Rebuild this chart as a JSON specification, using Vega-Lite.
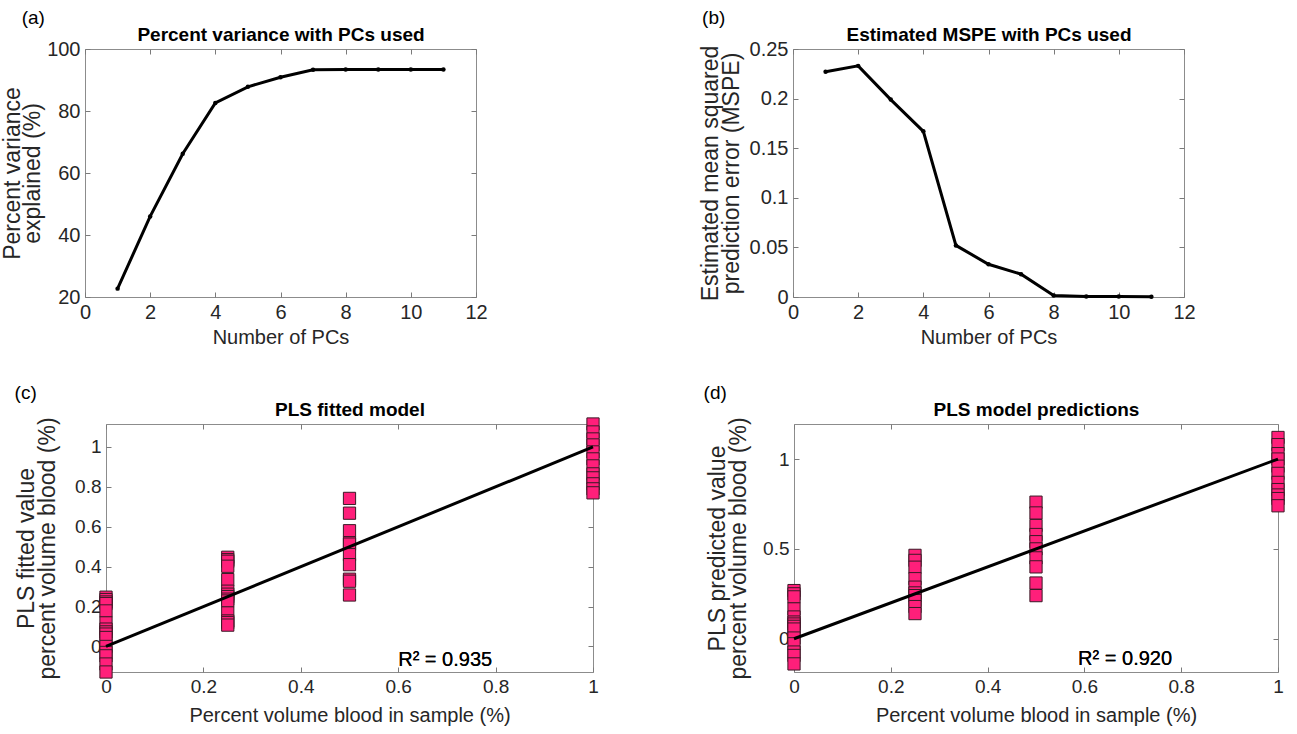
{
  "$schema": "https://vega.github.io/schema/vega-lite/v6.json",
  "background": "white",
  "padding": {"left": 1, "top": 8, "right": 0, "bottom": 0},
  "config": {
    "font": "Liberation Sans",
    "view": {"stroke": "#8c8c8c", "strokeWidth": 1},
    "axis": {
      "grid": false, "domain": false, "tickColor": "#7a7a7a", "tickSize": -5, "tickWidth": 1,
      "labelPadding": 10, "labelFont": "Liberation Sans", "labelFontSize": 19, "labelColor": "#262626",
      "labelFlush": false, "labelOverlap": false,
      "titleFont": "Liberation Sans", "titleFontSize": 20, "titleFontWeight": "normal", "titleColor": "#262626",
      "titlePadding": 5, "titleLineHeight": 21
    },
    "axisY": {"titleFontSize": 23, "titlePadding": 2},
    "axisTop": {"titleFontSize": 19, "titleFontWeight": "bold", "titleColor": "#000000", "titlePadding": 4},
    "title": {"font": "Liberation Sans", "fontSize": 19, "fontWeight": "normal", "color": "#000000", "anchor": "start", "frame": "bounds", "offset": -2}
  },
  "datasets": {
    "var": [
      {"pcs": 1, "value": 22.7}, {"pcs": 2, "value": 46.0}, {"pcs": 3, "value": 66.2}, {"pcs": 4, "value": 82.6},
      {"pcs": 5, "value": 87.8}, {"pcs": 6, "value": 90.9}, {"pcs": 7, "value": 93.3}, {"pcs": 8, "value": 93.4},
      {"pcs": 9, "value": 93.4}, {"pcs": 10, "value": 93.4}, {"pcs": 11, "value": 93.4}
    ],
    "mspe": [
      {"pcs": 1, "mspe": 0.227}, {"pcs": 2, "mspe": 0.233}, {"pcs": 3, "mspe": 0.199}, {"pcs": 4, "mspe": 0.167},
      {"pcs": 5, "mspe": 0.052}, {"pcs": 6, "mspe": 0.033}, {"pcs": 7, "mspe": 0.023}, {"pcs": 8, "mspe": 0.0015},
      {"pcs": 9, "mspe": 0.0006}, {"pcs": 10, "mspe": 0.0004}, {"pcs": 11, "mspe": 0.0003}
    ],
    "fit": [
      {"blood": 0, "fitted": 0.247}, {"blood": 0, "fitted": 0.235}, {"blood": 0, "fitted": 0.223}, {"blood": 0, "fitted": 0.215},
      {"blood": 0, "fitted": 0.178}, {"blood": 0, "fitted": 0.118}, {"blood": 0, "fitted": 0.087}, {"blood": 0, "fitted": 0.073},
      {"blood": 0, "fitted": 0.062}, {"blood": 0, "fitted": 0.045}, {"blood": 0, "fitted": 0.0}, {"blood": 0, "fitted": -0.03},
      {"blood": 0, "fitted": -0.047}, {"blood": 0, "fitted": -0.088}, {"blood": 0, "fitted": -0.128},
      {"blood": 0.25, "fitted": 0.447}, {"blood": 0.25, "fitted": 0.435}, {"blood": 0.25, "fitted": 0.427}, {"blood": 0.25, "fitted": 0.402},
      {"blood": 0.25, "fitted": 0.335}, {"blood": 0.25, "fitted": 0.277}, {"blood": 0.25, "fitted": 0.262}, {"blood": 0.25, "fitted": 0.25},
      {"blood": 0.25, "fitted": 0.237}, {"blood": 0.25, "fitted": 0.228}, {"blood": 0.25, "fitted": 0.168}, {"blood": 0.25, "fitted": 0.128},
      {"blood": 0.25, "fitted": 0.12}, {"blood": 0.25, "fitted": 0.107},
      {"blood": 0.5, "fitted": 0.742}, {"blood": 0.5, "fitted": 0.668}, {"blood": 0.5, "fitted": 0.58}, {"blood": 0.5, "fitted": 0.52},
      {"blood": 0.5, "fitted": 0.513}, {"blood": 0.5, "fitted": 0.46}, {"blood": 0.5, "fitted": 0.41}, {"blood": 0.5, "fitted": 0.337},
      {"blood": 0.5, "fitted": 0.327}, {"blood": 0.5, "fitted": 0.258},
      {"blood": 1, "fitted": 1.115}, {"blood": 1, "fitted": 1.075}, {"blood": 1, "fitted": 1.04}, {"blood": 1, "fitted": 1.01},
      {"blood": 1, "fitted": 0.975}, {"blood": 1, "fitted": 0.94}, {"blood": 1, "fitted": 0.905}, {"blood": 1, "fitted": 0.865},
      {"blood": 1, "fitted": 0.845}, {"blood": 1, "fitted": 0.815}, {"blood": 1, "fitted": 0.79}, {"blood": 1, "fitted": 0.77}
    ],
    "pred": [
      {"blood": 0, "predicted": 0.268}, {"blood": 0, "predicted": 0.25}, {"blood": 0, "predicted": 0.233}, {"blood": 0, "predicted": 0.166},
      {"blood": 0, "predicted": 0.121}, {"blood": 0, "predicted": 0.093}, {"blood": 0, "predicted": 0.082}, {"blood": 0, "predicted": 0.069},
      {"blood": 0, "predicted": 0.054}, {"blood": 0, "predicted": 0.004}, {"blood": 0, "predicted": -0.028}, {"blood": 0, "predicted": -0.074},
      {"blood": 0, "predicted": -0.093}, {"blood": 0, "predicted": -0.14},
      {"blood": 0.25, "predicted": 0.464}, {"blood": 0.25, "predicted": 0.436}, {"blood": 0.25, "predicted": 0.398}, {"blood": 0.25, "predicted": 0.334},
      {"blood": 0.25, "predicted": 0.287}, {"blood": 0.25, "predicted": 0.255}, {"blood": 0.25, "predicted": 0.24}, {"blood": 0.25, "predicted": 0.212},
      {"blood": 0.25, "predicted": 0.179}, {"blood": 0.25, "predicted": 0.14},
      {"blood": 0.5, "predicted": 0.76}, {"blood": 0.5, "predicted": 0.7}, {"blood": 0.5, "predicted": 0.63}, {"blood": 0.5, "predicted": 0.58},
      {"blood": 0.5, "predicted": 0.54}, {"blood": 0.5, "predicted": 0.5}, {"blood": 0.5, "predicted": 0.45}, {"blood": 0.5, "predicted": 0.4},
      {"blood": 0.5, "predicted": 0.31}, {"blood": 0.5, "predicted": 0.24},
      {"blood": 1, "predicted": 1.12}, {"blood": 1, "predicted": 1.08}, {"blood": 1, "predicted": 1.03}, {"blood": 1, "predicted": 1.0},
      {"blood": 1, "predicted": 0.96}, {"blood": 1, "predicted": 0.92}, {"blood": 1, "predicted": 0.87}, {"blood": 1, "predicted": 0.83},
      {"blood": 1, "predicted": 0.8}, {"blood": 1, "predicted": 0.78}, {"blood": 1, "predicted": 0.74}
    ],
    "ident": [{"blood": 0, "estimate": 0}, {"blood": 1, "estimate": 1}]
  },
  "vconcat": [
    {
      "hconcat": [
        {
          "width": 391, "height": 248,
          "title": {"text": "(a)", "dx": 20},
          "layer": [
            {
              "data": {"name": "var"},
              "mark": {"type": "line", "color": "#000000", "strokeWidth": 3},
              "encoding": {
                "x": {"field": "pcs", "type": "quantitative", "scale": {"domain": [0, 12], "nice": false, "zero": false},
                      "axis": {"values": [0, 2, 4, 6, 8, 10, 12], "labelFontSize": 20, "title": "Number of PCs"}},
                "y": {"field": "value", "type": "quantitative", "scale": {"domain": [20, 100], "nice": false, "zero": false},
                      "axis": {"values": [20, 40, 60, 80, 100], "labelFontSize": 20, "titleLineHeight": 20, "title": ["Percent variance", "explained (%)"]}}
              }
            },
            {
              "data": {"name": "var"},
              "mark": {"type": "point", "filled": true, "size": 20, "color": "#000000", "opacity": 1},
              "encoding": {
                "x": {"field": "pcs", "type": "quantitative", "axis": null},
                "y": {"field": "value", "type": "quantitative", "axis": null}
              }
            },
            {
              "data": {"name": "var"},
              "mark": {"type": "point", "opacity": 0},
              "encoding": {
                "x": {"field": "pcs", "type": "quantitative", "axis": {"orient": "top", "values": [0, 2, 4, 6, 8, 10, 12], "labels": false, "title": "Percent variance with PCs used"}},
                "y": {"field": "value", "type": "quantitative", "axis": {"orient": "right", "values": [20, 40, 60, 80, 100], "labels": false, "title": null}}
              }
            }
          ],
          "resolve": {"axis": {"x": "independent", "y": "independent"}}
        },
        {
          "width": 391, "height": 248,
          "title": {"text": "(b)", "dx": 3},
          "layer": [
            {
              "data": {"name": "mspe"},
              "mark": {"type": "line", "color": "#000000", "strokeWidth": 3},
              "encoding": {
                "x": {"field": "pcs", "type": "quantitative", "scale": {"domain": [0, 12], "nice": false, "zero": false},
                      "axis": {"values": [0, 2, 4, 6, 8, 10, 12], "labelFontSize": 20, "title": "Number of PCs"}},
                "y": {"field": "mspe", "type": "quantitative", "scale": {"domain": [0, 0.25], "nice": false},
                      "axis": {"values": [0, 0.05, 0.1, 0.15, 0.2, 0.25], "format": "~g", "labelFontSize": 20, "titlePadding": 6, "title": ["Estimated mean squared", "prediction error (MSPE)"]}}
              }
            },
            {
              "data": {"name": "mspe"},
              "mark": {"type": "point", "filled": true, "size": 20, "color": "#000000", "opacity": 1},
              "encoding": {
                "x": {"field": "pcs", "type": "quantitative", "axis": null},
                "y": {"field": "mspe", "type": "quantitative", "axis": null}
              }
            },
            {
              "data": {"name": "mspe"},
              "mark": {"type": "point", "opacity": 0},
              "encoding": {
                "x": {"field": "pcs", "type": "quantitative", "axis": {"orient": "top", "values": [0, 2, 4, 6, 8, 10, 12], "labels": false, "title": "Estimated MSPE with PCs used"}},
                "y": {"field": "mspe", "type": "quantitative", "axis": {"orient": "right", "values": [0, 0.05, 0.1, 0.15, 0.2, 0.25], "labels": false, "title": null}}
              }
            }
          ],
          "resolve": {"axis": {"x": "independent", "y": "independent"}}
        }
      ],
      "spacing": 317,
      "bounds": "flush"
    },
    {
      "hconcat": [
        {
          "width": 21, "height": 248,
          "data": {"values": [{"k": 1}]},
          "mark": {"type": "point", "opacity": 0},
          "view": {"stroke": null}
        },
        {
          "hconcat": [
            {
              "width": 487, "height": 248,
              "title": {"text": "(c)", "dx": -1},
              "layer": [
                {
                  "data": {"name": "fit"},
                  "mark": {"type": "point", "shape": "square", "size": 150, "filled": true, "fill": "#ff1f7a", "stroke": "#3a1a26", "strokeWidth": 1, "opacity": 1},
                  "encoding": {
                    "x": {"field": "blood", "type": "quantitative", "scale": {"domain": [0, 1], "nice": false, "zero": false},
                          "axis": {"values": [0, 0.2, 0.4, 0.6, 0.8, 1], "format": "~g", "titlePadding": 9, "title": "Percent volume blood in sample (%)"}},
                    "y": {"field": "fitted", "type": "quantitative", "scale": {"domain": [-0.128, 1.115], "nice": false, "zero": false},
                          "axis": {"values": [0, 0.2, 0.4, 0.6, 0.8, 1], "format": "~g", "titlePadding": 15, "title": ["PLS fitted value", "percent volume blood (%)"]}}
                  }
                },
                {
                  "data": {"name": "ident"},
                  "mark": {"type": "line", "color": "#000000", "strokeWidth": 3},
                  "encoding": {
                    "x": {"field": "blood", "type": "quantitative", "axis": null},
                    "y": {"field": "estimate", "type": "quantitative", "axis": null}
                  }
                },
                {
                  "data": {"name": "ident"},
                  "mark": {"type": "text", "align": "left", "baseline": "middle", "fontSize": 20, "font": "Liberation Sans", "color": "#000000"},
                  "encoding": {
                    "x": {"datum": 0.6, "type": "quantitative", "axis": null},
                    "y": {"datum": -0.07, "type": "quantitative", "axis": null},
                    "text": {"value": "R² = 0.935"}
                  }
                },
                {
                  "data": {"name": "fit"},
                  "mark": {"type": "point", "opacity": 0},
                  "encoding": {
                    "x": {"field": "blood", "type": "quantitative", "axis": {"orient": "top", "values": [0, 0.2, 0.4, 0.6, 0.8, 1], "labels": false, "title": "PLS fitted model"}},
                    "y": {"field": "fitted", "type": "quantitative", "axis": {"orient": "right", "values": [0, 0.2, 0.4, 0.6, 0.8, 1], "labels": false, "title": null}}
                  }
                }
              ],
              "resolve": {"axis": {"x": "independent", "y": "independent"}}
            },
            {
              "width": 484, "height": 248,
              "title": {"text": "(d)", "dx": -3},
              "layer": [
                {
                  "data": {"name": "pred"},
                  "mark": {"type": "point", "shape": "square", "size": 150, "filled": true, "fill": "#ff1f7a", "stroke": "#3a1a26", "strokeWidth": 1, "opacity": 1},
                  "encoding": {
                    "x": {"field": "blood", "type": "quantitative", "scale": {"domain": [0, 1], "nice": false, "zero": false},
                          "axis": {"values": [0, 0.2, 0.4, 0.6, 0.8, 1], "format": "~g", "titlePadding": 9, "title": "Percent volume blood in sample (%)"}},
                    "y": {"field": "predicted", "type": "quantitative", "scale": {"domain": [-0.185, 1.195], "nice": false, "zero": false},
                          "axis": {"values": [0, 0.5, 1], "format": "~g", "titlePadding": 12, "title": ["PLS predicted value", "percent volume blood (%)"]}}
                  }
                },
                {
                  "data": {"name": "ident"},
                  "mark": {"type": "line", "color": "#000000", "strokeWidth": 3},
                  "encoding": {
                    "x": {"field": "blood", "type": "quantitative", "axis": null},
                    "y": {"field": "estimate", "type": "quantitative", "axis": null}
                  }
                },
                {
                  "data": {"name": "ident"},
                  "mark": {"type": "text", "align": "left", "baseline": "middle", "fontSize": 20, "font": "Liberation Sans", "color": "#000000"},
                  "encoding": {
                    "x": {"datum": 0.587, "type": "quantitative", "axis": null},
                    "y": {"datum": -0.11, "type": "quantitative", "axis": null},
                    "text": {"value": "R² = 0.920"}
                  }
                },
                {
                  "data": {"name": "pred"},
                  "mark": {"type": "point", "opacity": 0},
                  "encoding": {
                    "x": {"field": "blood", "type": "quantitative", "axis": {"orient": "top", "values": [0, 0.2, 0.4, 0.6, 0.8, 1], "labels": false, "title": "PLS model predictions"}},
                    "y": {"field": "predicted", "type": "quantitative", "axis": {"orient": "right", "values": [0, 0.5, 1], "labels": false, "title": null}}
                  }
                }
              ],
              "resolve": {"axis": {"x": "independent", "y": "independent"}}
            }
          ],
          "spacing": 201,
          "bounds": "flush"
        }
      ],
      "spacing": 0,
      "bounds": "flush"
    }
  ],
  "spacing": 375,
  "bounds": "flush"
}
